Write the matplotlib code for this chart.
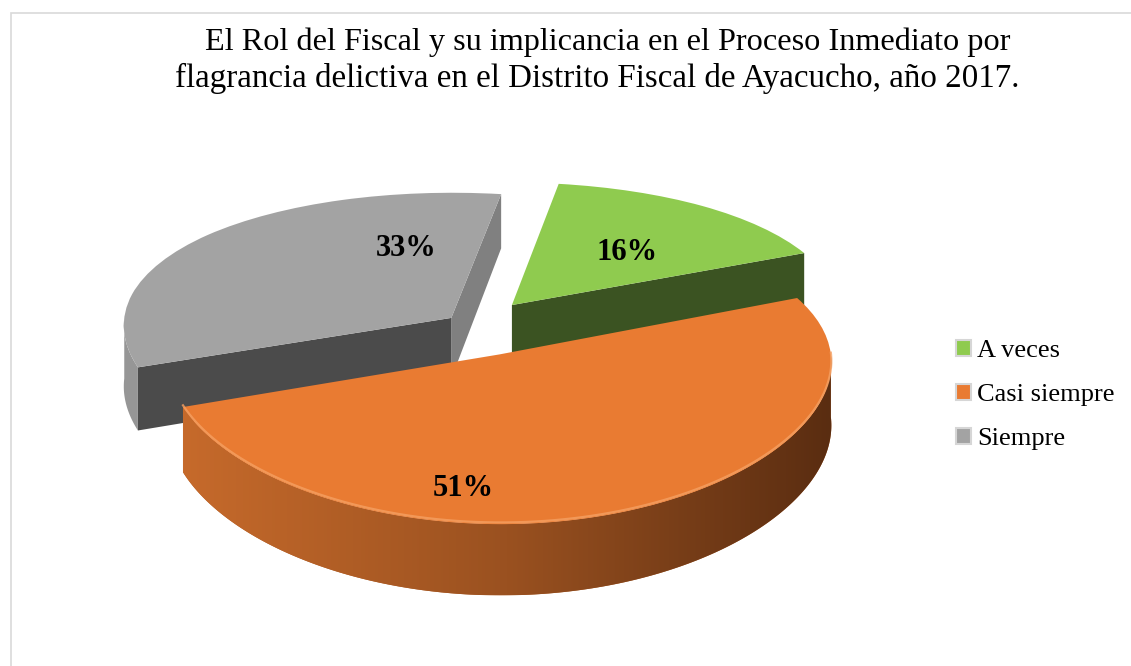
import numpy as np
import matplotlib
matplotlib.use('Agg')
import matplotlib.pyplot as plt
from matplotlib.patches import Polygon, Rectangle
from matplotlib.colors import LinearSegmentedColormap
from matplotlib.transforms import Transform

plt.rcParams['font.family'] = ['Liberation Serif', 'DejaVu Serif']

# data
labels = ['A veces', 'Casi siempre', 'Siempre']
values = [16, 51, 33]

# styles
top_colors = ['#8fcb4f', '#e97b32', '#a3a3a3']
face1_colors = ['#3b5322', '#8a4318', '#808080']   # radial face at theta1
face2_colors = ['#3b5322', '#8a4318', '#4b4b4b']   # radial face at theta2
wall_colors = ['#4c6e2c', '#b05e26', '#969696']
explode = [0.19, 0.21, 0.09]

W, H = 1131, 666
CX, CY, RX, RY = 474, 326, 328, 142   # pie centre and radii in pixels
PX, PY = 0.05, 0.12                   # perspective: back of the pie smaller
DEPTH = 61 / RY                       # thickness at the centre, screen units


class Persp(Transform):
    input_dims = output_dims = 2

    def transform_non_affine(self, values):
        v = np.asarray(values, float)
        return np.column_stack([v[:, 0] / (1.0 + PX * v[:, 1]),
                                v[:, 1] / (1.0 + PY * v[:, 1])])


persp = Persp()


def project(pts):
    return persp.transform_non_affine(np.atleast_2d(pts))


fig = plt.figure(figsize=(W / 100, H / 100), dpi=100)
ax = fig.add_axes([0, 0, 1, 1])
wedges, _, autotexts = ax.pie(values, explode=explode, colors=top_colors, startangle=81,
                              counterclock=False, autopct='%1.0f%%',
                              wedgeprops=dict(linewidth=0, zorder=3),
                              textprops=dict(fontsize=22, fontweight='bold', color='black'))
for w in wedges:
    w.set_transform(persp + ax.transData)


def front_ranges(t1, t2):
    out = []
    for k in range(-2, 3):
        a, b = max(t1, -180 + 360 * k), min(t2, 360 * k)
        if a < b:
            out.append((a, b))
    return out


def drop(pts_plane):
    # projected points and the same points pushed down by the slice thickness
    top = project(pts_plane)
    s = 1.0 / (1.0 + PY * pts_plane[:, 1])
    bot = top - np.column_stack([np.zeros(len(s)), DEPTH * s])
    return top, bot


wall_cmap = LinearSegmentedColormap.from_list('ow', ['#c66a2b', '#9a5120', '#5a2d11'])

# sides: green, gray, then orange in front
for i in [0, 2, 1]:
    w = wedges[i]
    c, r, t1, t2 = np.array(w.center), w.r, w.theta1, w.theta2
    for th, col, vis in [(t1, face1_colors[i], np.cos(np.radians(t1)) > 0),
                         (t2, face2_colors[i], np.cos(np.radians(t2)) < 0)]:
        if vis:
            u = np.array([np.cos(np.radians(th)), np.sin(np.radians(th))])
            top, bot = drop(np.array([c, c + r * u]))
            pts = np.vstack([top, bot[::-1]])
            ax.add_patch(Polygon(pts, closed=True, fc=col, ec='none', zorder=2))
    for a, b in front_ranges(t1, t2):
        th = np.radians(np.linspace(a, b, 200))
        rim = np.column_stack([c[0] + r * np.cos(th), c[1] + r * np.sin(th)])
        top, bot = drop(rim)
        pts = np.vstack([top, bot[::-1]])
        poly = Polygon(pts, closed=True, fc=wall_colors[i], ec='none', zorder=2)
        ax.add_patch(poly)
        if i == 1:
            grad = np.linspace(0, 1, 256).reshape(1, -1)
            im = ax.imshow(grad, cmap=wall_cmap, aspect='auto', zorder=2.1,
                           extent=[top[:, 0].min(), top[:, 0].max(),
                                   bot[:, 1].min(), top[:, 1].max()])
            im.set_clip_path(poly)
            ax.plot(top[:, 0], top[:, 1] + 0.012, color='#f5a062', lw=1.6, alpha=0.8, zorder=4)

# percentage labels, placed in screen units
label_pos = [(627, 253), (463, 489), (406, 248)]
for t, (px, py) in zip(autotexts, label_pos):
    t.set_position(((px - CX) / RX, (CY - py) / RY))
    t.set_zorder(5)

ax.set_aspect('auto')
ax.set_xlim(-CX / RX, (W - CX) / RX)
ax.set_ylim((CY - H) / RY, CY / RY)
ax.axis('off')

# legend
handles = [Rectangle((0, 0), 1, 1, fc=col, ec='#d6d6d6', lw=1.5) for col in top_colors]
fig.legend(handles, labels, loc='center left', bbox_to_anchor=(956 / W, 1 - 395 / H),
           frameon=False, fontsize=19, handlelength=0.55, handleheight=0.55,
           handletextpad=0.25, labelspacing=0.83, borderpad=0, borderaxespad=0)

# title
fig.text(608 / W, 1 - 50 / H, 'El Rol del Fiscal y su implicancia en el Proceso Inmediato por',
         ha='center', va='baseline', fontsize=23.2)
fig.text(597 / W, 1 - 87 / H, 'flagrancia delictiva en el Distrito Fiscal de Ayacucho, año 2017.',
         ha='center', va='baseline', fontsize=23.8)

# chart frame
fig.add_artist(Rectangle((10.5 / W, -0.1), 1.2, (H - 13) / H + 0.1, transform=fig.transFigure,
                         fill=False, ec='#d9d9d9', lw=1.2))

fig.savefig('out.png', dpi=100, facecolor='white')
